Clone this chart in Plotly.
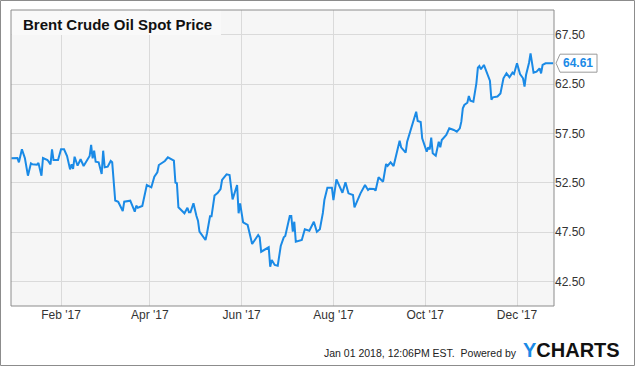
import plotly.graph_objects as go

dates = [
    "2016-12-30", "2017-01-03", "2017-01-04", "2017-01-06", "2017-01-08", "2017-01-10", "2017-01-12",
    "2017-01-13", "2017-01-16", "2017-01-17", "2017-01-19", "2017-01-20", "2017-01-23", "2017-01-25",
    "2017-01-26", "2017-01-27", "2017-01-30", "2017-02-01", "2017-02-03", "2017-02-05", "2017-02-07",
    "2017-02-08", "2017-02-09", "2017-02-10", "2017-02-12", "2017-02-14", "2017-02-16", "2017-02-20",
    "2017-02-21", "2017-02-22", "2017-02-23", "2017-02-24", "2017-02-26", "2017-02-28", "2017-03-01",
    "2017-03-02", "2017-03-04", "2017-03-06", "2017-03-07", "2017-03-09", "2017-03-11", "2017-03-12",
    "2017-03-14", "2017-03-15", "2017-03-19", "2017-03-22", "2017-03-23", "2017-03-24", "2017-03-27",
    "2017-03-30", "2017-04-02", "2017-04-04", "2017-04-06", "2017-04-07", "2017-04-10", "2017-04-11",
    "2017-04-13", "2017-04-17", "2017-04-18", "2017-04-19", "2017-04-20", "2017-04-22", "2017-04-24",
    "2017-04-26", "2017-04-27", "2017-04-28", "2017-04-30", "2017-05-02", "2017-05-03", "2017-05-04",
    "2017-05-06", "2017-05-08", "2017-05-09", "2017-05-11", "2017-05-12", "2017-05-14", "2017-05-16",
    "2017-05-17", "2017-05-18", "2017-05-19", "2017-05-22", "2017-05-24", "2017-05-26", "2017-05-29",
    "2017-05-30", "2017-05-31", "2017-06-02", "2017-06-05", "2017-06-08", "2017-06-12", "2017-06-13",
    "2017-06-14", "2017-06-19", "2017-06-20", "2017-06-21", "2017-06-23", "2017-06-25", "2017-06-27",
    "2017-06-29", "2017-06-30", "2017-07-03", "2017-07-04", "2017-07-05", "2017-07-06", "2017-07-07",
    "2017-07-11", "2017-07-13", "2017-07-16", "2017-07-19", "2017-07-21", "2017-07-23", "2017-07-25",
    "2017-07-26", "2017-07-28", "2017-07-31", "2017-08-01", "2017-08-03", "2017-08-07", "2017-08-08",
    "2017-08-09", "2017-08-11", "2017-08-14", "2017-08-15", "2017-08-16", "2017-08-19", "2017-08-22",
    "2017-08-24", "2017-08-25", "2017-08-28", "2017-08-29", "2017-08-31", "2017-09-03", "2017-09-05",
    "2017-09-06", "2017-09-08", "2017-09-10", "2017-09-12", "2017-09-14", "2017-09-15", "2017-09-18",
    "2017-09-19", "2017-09-21", "2017-09-25", "2017-09-26", "2017-09-28", "2017-09-29", "2017-10-01",
    "2017-10-02", "2017-10-03", "2017-10-04", "2017-10-05", "2017-10-06", "2017-10-08", "2017-10-10",
    "2017-10-11", "2017-10-12", "2017-10-15", "2017-10-17", "2017-10-20", "2017-10-22", "2017-10-24",
    "2017-10-25", "2017-10-26", "2017-10-27", "2017-10-29", "2017-10-30", "2017-10-31", "2017-11-02",
    "2017-11-04", "2017-11-05", "2017-11-06", "2017-11-07", "2017-11-09", "2017-11-11", "2017-11-13",
    "2017-11-14", "2017-11-15", "2017-11-18", "2017-11-20", "2017-11-22", "2017-11-24", "2017-11-26",
    "2017-11-28", "2017-11-29", "2017-12-01", "2017-12-03", "2017-12-05", "2017-12-06", "2017-12-07",
    "2017-12-09", "2017-12-10", "2017-12-12", "2017-12-14", "2017-12-16", "2017-12-17", "2017-12-18",
    "2017-12-20", "2017-12-25",
]

prices = [
    54.97, 55.00, 54.56, 55.88, 54.97, 53.21, 54.46, 54.36, 54.32, 54.49, 53.21, 55.00, 54.80, 54.36,
    55.88, 54.80, 54.80, 55.88, 55.88, 55.20, 53.85, 54.36, 53.89, 55.13, 54.22, 54.87, 54.19, 55.20,
    56.32, 54.97, 55.74, 54.63, 54.56, 53.38, 55.74, 54.06, 54.12, 54.70, 54.56, 50.69, 50.57, 50.24,
    49.63, 50.57, 50.67, 49.56, 50.17, 49.96, 50.14, 52.26, 52.03, 53.11, 53.55, 54.29, 54.63, 54.70,
    55.07, 54.73, 52.50, 52.44, 50.00, 49.66, 49.40, 49.96, 49.50, 49.50, 50.41, 49.12, 48.65, 47.53,
    47.13, 46.69, 47.37, 49.09, 49.09, 51.20, 51.45, 51.71, 51.86, 52.77, 53.35, 53.28, 50.81, 52.26,
    49.40, 50.41, 48.48, 48.21, 46.28, 47.20, 46.96, 45.50, 45.95, 43.98, 44.66, 44.16, 44.08, 46.08,
    46.96, 47.09, 49.12, 49.12, 47.53, 48.54, 46.52, 46.69, 47.77, 47.63, 48.54, 47.53, 47.78, 49.43,
    50.74, 51.99, 51.99, 50.74, 52.84, 51.48, 52.16, 52.54, 51.42, 51.25, 50.00, 50.41, 51.42, 52.26,
    51.76, 51.89, 51.86, 51.69, 53.04, 52.60, 54.39, 54.19, 54.56, 54.19, 55.41, 56.75, 56.08, 55.54,
    56.65, 57.67, 59.69, 58.75, 58.65, 57.00, 56.08, 55.64, 56.08, 55.88, 57.06, 55.48, 55.23, 56.65,
    56.08, 56.82, 57.33, 58.01, 57.84, 57.67, 58.01, 58.68, 60.04, 60.37, 60.60, 61.28, 60.81, 60.71,
    62.57, 64.15, 64.32, 63.99, 64.43, 63.65, 62.83, 60.91, 61.15, 61.23, 61.54, 63.08, 63.58, 63.18,
    63.65, 63.51, 64.60, 63.51, 63.08, 62.23, 63.41, 64.66, 65.61, 63.65, 63.75, 64.09, 63.58, 64.43,
    64.60, 64.61,
]

y_ticks = [42.5, 47.5, 52.5, 57.5, 62.5, 67.5]
x_ticks = ["2017-02-01", "2017-04-01", "2017-06-01", "2017-08-01", "2017-10-01", "2017-12-01"]
x_tick_labels = ["Feb '17", "Apr '17", "Jun '17", "Aug '17", "Oct '17", "Dec '17"]

title_text = "Brent Crude Oil Spot Price"
footer_text = "Jan 01 2018, 12:06PM EST.  Powered by"
last_label = f"{prices[-1]:.2f}"

LINE = "#1a8ae6"
BORDER = "#8c8c8c"
GRID = "#dadada"
FONT = "Liberation Sans, Arial, sans-serif"

W, H = 635, 366
ML, MR, MT, MB = 11, 81, 10, 60
PW, PH = W - ML - MR, H - MT - MB


def px_x(p):
    return (p - ML) / PW


def px_y(p):
    return (H - MB - p) / PH


fig = go.Figure()
fig.add_trace(go.Scatter(
    x=dates, y=prices, mode="lines",
    line=dict(color=LINE, width=2),
    hoverinfo="skip", showlegend=False,
))

fig.update_layout(
    width=W, height=H, autosize=False,
    margin=dict(l=ML, r=MR, t=MT, b=MB, pad=0),
    paper_bgcolor="white", plot_bgcolor="#f6f6f6",
    font=dict(family=FONT, size=12, color="#333333"),
    showlegend=False,
    xaxis=dict(
        range=["2016-12-29 18:00", "2017-12-25 14:00"],
        tickvals=x_ticks, ticktext=x_tick_labels,
        showgrid=True, gridcolor=GRID, gridwidth=1,
        zeroline=False, showline=False, ticks="",
        tickfont=dict(size=12, color="#333333"),
        fixedrange=True,
    ),
    yaxis=dict(
        range=[40, 70], side="right",
        tickvals=y_ticks, ticktext=[f"{v:.2f}" for v in y_ticks],
        showgrid=True, gridcolor=GRID, gridwidth=1,
        zeroline=False, showline=False, ticks="",
        tickfont=dict(size=12, color="#333333"),
        fixedrange=True,
    ),
    shapes=[
        # title backdrop
        dict(type="rect", xref="paper", yref="paper",
             x0=px_x(11.5), x1=px_x(221), y0=px_y(35), y1=px_y(10.5),
             fillcolor="#f9f9f9", line=dict(width=0), layer="above"),
        # plot border
        dict(type="rect", xref="paper", yref="paper", x0=0, x1=1, y0=0, y1=1,
             line=dict(color=BORDER, width=1), layer="above"),
        # outer border
        dict(type="rect", xref="paper", yref="paper",
             x0=px_x(0.5), x1=px_x(634.5), y0=px_y(365.5), y1=px_y(0.5),
             line=dict(color=BORDER, width=1), layer="above"),
        # last value flag
        dict(type="path", xref="paper", yref="y",
             xsizemode="pixel", ysizemode="pixel",
             xanchor=1, yanchor=prices[-1],
             path="M 2 0 L 6 9 L 43 9 L 43 -9 L 6 -9 Z",
             fillcolor="white", line=dict(color="#9a9a9a", width=1), layer="above"),
    ],
    annotations=[
        dict(text=f"<b>{title_text}</b>", xref="paper", yref="paper",
             x=px_x(21), y=px_y(25), xanchor="left", yanchor="middle",
             showarrow=False, font=dict(size=15, color="#111111", family=FONT)),
        dict(text=f"<b>{last_label}</b>", xref="paper", yref="y",
             x=1, y=prices[-1], xanchor="left", yanchor="middle", xshift=7,
             showarrow=False, font=dict(size=12, color=LINE, family=FONT)),
        dict(text=footer_text, xref="paper", yref="paper",
             x=px_x(519), y=px_y(353), xanchor="right", yanchor="middle",
             showarrow=False,
             font=dict(size=10.5, color="#222222", family=FONT)),
        dict(text=f"<b><span style='color:{LINE}'>Y</span>CHARTS</b>", xref="paper", yref="paper",
             x=px_x(521), y=px_y(350), xanchor="left", yanchor="middle",
             showarrow=False, font=dict(size=20, color="#111111", family=FONT)),
    ],
)

fig.write_html(
    "out.html",
    config={"displayModeBar": False, "staticPlot": True},
    post_script="document.body.style.margin='0';document.body.style.padding='0';"
                "document.documentElement.style.overflow='hidden';",
)
